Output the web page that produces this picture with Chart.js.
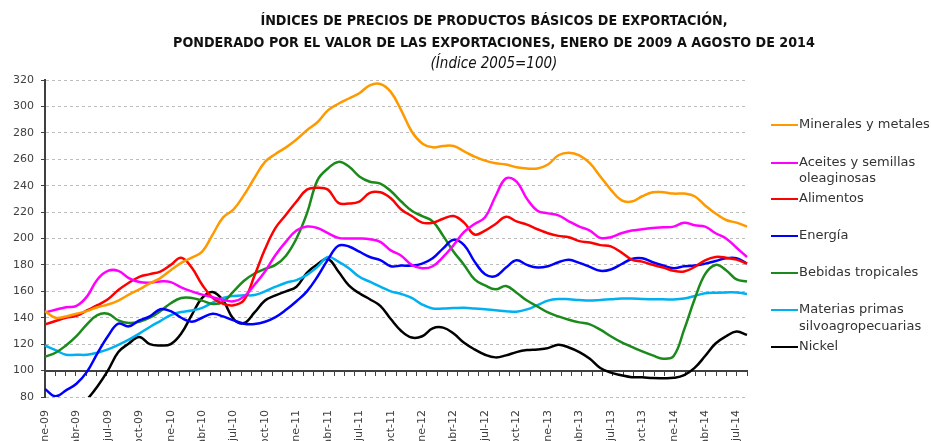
<!DOCTYPE html>
<html lang="es">
<head>
<meta charset="utf-8">
<title>Índices de precios de productos básicos de exportación</title>
<script src="https://cdn.jsdelivr.net/npm/chart.js@4.4.1/dist/chart.umd.min.js"></script>
<style>
    html, body { margin: 0; padding: 0; background: #fff; overflow: hidden; }
    #wrap { position: relative; width: 931px; height: 441px; }
    #chart { position: absolute; left: 0; top: 0; }
    .title {
        position: absolute; left: 0; width: 988px; text-align: center; white-space: nowrap;
        font-family: "Liberation Sans Narrow", "DejaVu Sans Condensed", "Open Sans", sans-serif;
        font-weight: bold; font-size: 14.2px; color: #111;
    }
    #t1 { top: 12px; }
    #t2 { top: 34px; }
    #sub { top: 54px; font-weight: normal; font-style: italic; font-size: 15px; }
    #legend { position: absolute; left: 771px; top: 0; font-family: "DejaVu Sans", sans-serif; font-size: 13px; color: #333; }
    .item { position: absolute; left: 0; width: 170px; display: flex; align-items: flex-start; line-height: 16.5px; }
    .swatch { width: 27px; height: 2px; margin-top: 8px; flex: none; }
    .item span { margin-left: 1px; white-space: pre-line; }
</style>
</head>
<body>
<div id="wrap">
    <canvas id="chart" width="931" height="441"></canvas>
    <div class="title" id="t1">ÍNDICES DE PRECIOS DE PRODUCTOS BÁSICOS DE EXPORTACIÓN,</div>
    <div class="title" id="t2">PONDERADO POR EL VALOR DE LAS EXPORTACIONES, ENERO DE 2009 A AGOSTO DE 2014</div>
    <div class="title" id="sub">(Índice 2005=100)</div>
    <div id="legend"></div>
</div>
<script>
// months ene-09 .. ago-14
const monthNames = ["ene", "feb", "mar", "abr", "may", "jun", "jul", "ago", "sep", "oct", "nov", "dic"];
const years = ["09", "10", "11", "12", "13", "14"];
const lastMonthOf2014 = 8;

const labels = [];
years.forEach(y => {
    const n = y === "14" ? lastMonthOf2014 : 12;
    for (let m = 0; m < n; m++) labels.push(`${monthNames[m]}-${y}`);
});

const minerales = [145,140,141,143,145,148,150,153,157.5,161.5, 166,170,176,181.5,185.5,190,203,216,222,233,
    246,258,264,269,275,282,288,297,302,306, 310,316,317,311,297,281,272,269,270,270,
    266,262,259,257,256,254,253,253,256,263, 265,263,257,247,237,229,228,232,235,235,
    234,234,232,225,219,214,212,209];
const aceites = [144,146,148,149,156,169,175.5,175.5,170,167, 166.5,167.5,167,163,160,157.5,155.5,153.5,152.5,156,
    165,175,187.5,197.6,206,209,208,204,200.5,200, 200,199.5,197.5,191,187,180,177.5,179,186,195,
    205,211,216,232,245.5,243,230,221,219,217.5, 213,209,206,200.5,201,204,206,207,208,208.5,
    209,212,210,209,204,200,193,186];
const alimentos = [135,137.5,140,141.5,145.5,149.5,154,161,166.5,171, 173,175,180,185.5,178,165,155,150.5,149.5,153.5,
    172,192,208,218,228,237,238.5,237,227,226.5, 228,234.5,235,230.5,222,217,212,212,215,217,
    212,203,206,211,216.5,213,210.5,207,204,202, 201,198,197,195,194,189.5,184,182.5,180,178,
    175.5,175,178.5,183.5,186,185.5,184,181];
const energia = [86,80.5,85,90,99,113,126,135.5,133.5,138, 141,146.5,145,140,137,140,143,141,138,135.5,
    135.3,137,140.5,146,152.5,160,171,184,194.5,194, 190,186,183.7,179,179.5,179.5,181,185,192.5,199,
    195,182.5,173,171.5,178,183.5,180,178,179,182, 184,181.5,178.5,175.5,176.5,180.5,184.5,185,182,179.5,
    177.5,179,179.5,181,183,185,185,181];
const bebidas = [110.5,113.5,119,126,135,142,143,138,136,137, 140,145,151,155,155,153,150.5,152,160,168,
    173.5,177,180,187,200,219,244,253,258,254.5, 247,243,241.5,236,228,221,217,213,202,190,
    180,169,164.5,161.5,164,159,153,148.5,144,141, 138.5,136.5,135,131,126,121.5,118,114.5,111.5,109,
    111,131,154,173,180,176,169,167.5];
const materias = [119,115.5,112,112,112,113.5,116,119.5,123.5,128, 133,137.5,142,144.3,145.5,147.5,151.5,155,156.5,157,
    157.2,160,163.5,166.5,168.5,172.5,178.5,186,182.5,177.5, 171,167.3,163.5,160,158,155,150,147,147,147.3,
    147.5,147,146.5,145.6,145,144.6,146.3,149.5,153,154.2, 154,153.4,153,153.5,154,154.5,154.5,154.2,154,154,
    153.8,154.5,156.5,158.5,159,159.2,159.2,158];
const nickel = [70,66,66,70,78,88,100,114,120.5,125.5, 120,119,120,128,142,155,159.5,153,139,136,
    144,153,157,160,163.5,174,180.5,184.5,175,164.5, 158.5,154,149,139,130,125,126,132,132.5,128,
    121,116,112,110,111.5,114,115.5,116,117,119.5, 117.5,114,109,102,98.5,96.5,95,95,94.3,94.2,
    94.5,96.5,102,111,120.5,126,129.5,127];

const seriesNames = ["Minerales y metales", "Aceites y semillas\noleaginosas", "Alimentos", "Energía",
    "Bebidas tropicales", "Materias primas\nsilvoagropecuarias", "Nickel"];
const seriesData = [minerales, aceites, alimentos, energia, bebidas, materias, nickel];
const seriesColors = ["#ff9900", "#ff00ff", "#ff0000", "#0000ff", "#1a8a1a", "#00b0f0", "#000000"];

// legend rows (top of each entry, px)
const legendTops = [116, 153.5, 190, 227, 263.5, 301, 338];

const axisColor = "#404040";
const tickFont = { family: "DejaVu Sans", size: 11 };

const legend = document.getElementById("legend");
seriesNames.forEach((name, i) => {
    const item = document.createElement("div");
    item.className = "item";
    item.style.top = legendTops[i] + "px";
    item.innerHTML = `<div class="swatch" style="background:${seriesColors[i]}"></div><span></span>`;
    item.querySelector("span").textContent = name;
    legend.appendChild(item);
});

new Chart(document.getElementById("chart"), {
    type: "line",
    data: {
        labels: labels,
        datasets: seriesNames.map((name, i) => ({
            label: name.replace("\n", " "),
            data: seriesData[i],
            borderColor: seriesColors[i],
            backgroundColor: seriesColors[i],
            fill: false
        }))
    },
    options: {
        responsive: false,
        animation: false,
        layout: { padding: { top: 80, right: 184, left: 0, bottom: 0 } },
        elements: {
            point: { radius: 0 },
            line: { tension: 0.4, borderWidth: 2.5 }
        },
        plugins: {
            legend: { display: false },
            tooltip: { enabled: false }
        },
        scales: {
            x: {
                grid: { display: false },
                border: { display: false },
                ticks: {
                    autoSkip: false,
                    minRotation: 90,
                    maxRotation: 90,
                    padding: 5,
                    color: axisColor,
                    font: tickFont,
                    callback: (v, i) => (i % 3 === 0 ? labels[i] : null)
                },
                afterFit: s => { s.height = 44; }
            },
            // axis line crossing at 100 with monthly tick marks
            x2: {
                type: "category",
                labels: labels,
                position: { y: 100 },
                offset: true,
                grid: {
                    display: true,
                    offset: true,
                    drawOnChartArea: false,
                    drawTicks: true,
                    tickLength: 4,
                    tickColor: axisColor,
                    tickWidth: 1
                },
                border: { display: true, color: axisColor, width: 2 },
                ticks: { display: false }
            },
            y: {
                min: 80,
                max: 320,
                ticks: { stepSize: 20, padding: 7, color: axisColor, font: tickFont },
                grid: { color: "#bdbdbd", tickColor: axisColor, tickLength: 4 },
                border: { color: axisColor, width: 2, dash: [3, 3] },
                afterFit: s => { s.width = 45; }
            }
        }
    }
});
</script>
</body>
</html>
